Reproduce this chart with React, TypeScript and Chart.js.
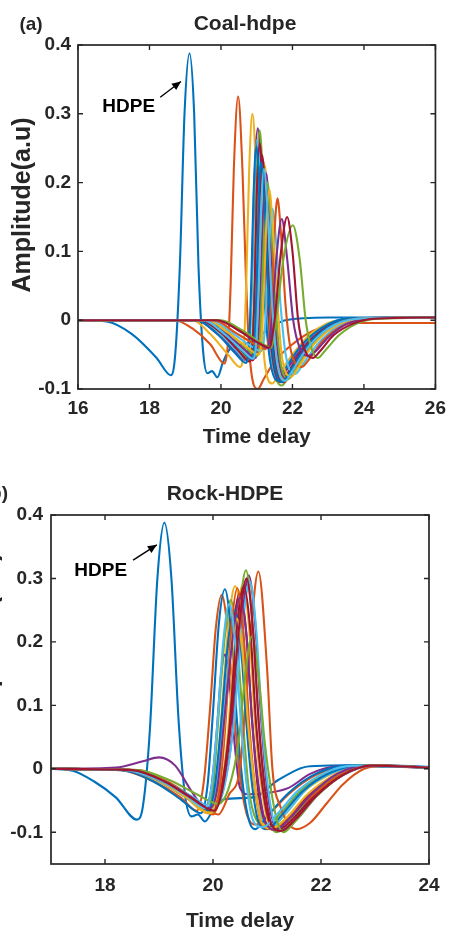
import React, { useEffect, useRef } from "react";
import { Chart, registerables } from "chart.js";

Chart.register(...registerables);

type Pt = [number, number];

// ---------- colours (MATLAB default order) ----------
const lineColors = ["#0072BD", "#D95319", "#EDB120", "#7E2F8E", "#77AC30", "#4DBEEE", "#A2142F"];

// ---------- panel (a) Coal-hdpe ----------
const coalXTicks = [16, 18, 20, 22, 24, 26];
const coalYTicks = [-0.1, 0, 0.1, 0.2, 0.3, 0.4];

const coalHdpe: Pt[] = [[16,0],[16.8,-0.002],[17.5,-0.02],[18.2,-0.055],[18.6,-0.08],[18.72,-0.05],[18.85,0.08],[18.98,0.3],[19.12,0.388],[19.25,0.3],[19.37,0.08],[19.5,-0.045],[19.62,-0.077],[19.75,-0.074],[19.9,-0.083],[20.05,-0.062],[20.25,-0.042],[20.7,-0.034],[21.2,-0.018],[21.8,0.0],[23,0.004],[26,0.004]];
const coal02: Pt[] = [[16,0],[18.7,0],[19.2,-0.012],[19.7,-0.035],[20.1,-0.063],[20.2,-0.03],[20.27,0.05],[20.36,0.22],[20.48,0.325],[20.6,0.22],[20.7,0.06],[20.8,-0.05],[21.03,-0.1],[21.2,-0.085],[21.5,-0.06],[22.0,-0.035],[22.6,-0.015],[23.5,-0.004],[26,-0.004]];
const coal03: Pt[] = [[16,0],[19.2,0],[19.7,-0.02],[20.2,-0.05],[20.53,-0.068],[20.64,-0.04],[20.71,0.06],[20.79,0.22],[20.88,0.3],[20.98,0.22],[21.1,0.05],[21.22,-0.06],[21.44,-0.092],[21.6,-0.08],[22.0,-0.05],[22.5,-0.02],[23.3,0],[26,0.004]];
const coal04: Pt[] = [[16,0],[19.3,0],[19.9,-0.02],[20.4,-0.045],[20.7,-0.058],[20.79,-0.03],[20.87,0.06],[20.94,0.2],[21.03,0.279],[21.13,0.21],[21.26,0.05],[21.39,-0.05],[21.62,-0.088],[21.8,-0.075],[22.2,-0.045],[22.8,-0.015],[23.6,0.002],[26,0.004]];
const coal05: Pt[] = [[16,0],[19.4,0],[20.0,-0.02],[20.5,-0.045],[20.78,-0.055],[20.87,-0.03],[20.94,0.06],[20.99,0.19],[21.08,0.276],[21.18,0.2],[21.31,0.04],[21.46,-0.06],[21.7,-0.095],[21.9,-0.08],[22.3,-0.045],[22.9,-0.012],[23.7,0.003],[26,0.004]];
const coal06: Pt[] = [[16,0],[19.4,0],[20.0,-0.02],[20.45,-0.045],[20.72,-0.058],[20.81,-0.03],[20.87,0.06],[20.92,0.18],[21.0,0.262],[21.11,0.19],[21.23,0.04],[21.37,-0.05],[21.6,-0.085],[21.8,-0.07],[22.2,-0.04],[22.8,-0.012],[23.6,0.003],[26,0.004]];
const coal07: Pt[] = [[16,0],[19.4,0],[20.0,-0.018],[20.5,-0.045],[20.8,-0.06],[20.89,-0.03],[20.95,0.06],[21.0,0.18],[21.08,0.257],[21.18,0.19],[21.31,0.04],[21.45,-0.055],[21.68,-0.09],[21.85,-0.078],[22.25,-0.045],[22.9,-0.012],[23.7,0.003],[26,0.004]];
const coal08: Pt[] = [[16,0],[19.3,0],[19.9,-0.02],[20.4,-0.048],[20.7,-0.062],[20.79,-0.03],[20.85,0.06],[20.91,0.18],[20.99,0.252],[21.09,0.18],[21.21,0.04],[21.35,-0.05],[21.58,-0.088],[21.75,-0.075],[22.2,-0.04],[22.8,-0.012],[23.6,0.003],[26,0.004]];
const coal09: Pt[] = [[16,0],[19.5,0],[20.1,-0.02],[20.6,-0.045],[20.88,-0.058],[20.97,-0.03],[21.03,0.06],[21.09,0.17],[21.17,0.233],[21.27,0.17],[21.39,0.03],[21.53,-0.06],[21.78,-0.09],[21.95,-0.078],[22.35,-0.045],[23.0,-0.012],[23.8,0.002],[26,0.004]];
const coal10: Pt[] = [[16,0],[19.5,0],[20.1,-0.02],[20.6,-0.042],[20.92,-0.055],[21.01,-0.028],[21.08,0.06],[21.14,0.165],[21.22,0.226],[21.32,0.16],[21.44,0.03],[21.58,-0.06],[21.82,-0.088],[22.0,-0.075],[22.4,-0.043],[23.0,-0.012],[23.8,0.002],[26,0.004]];
const coal11: Pt[] = [[16,0],[19.5,0],[20.1,-0.018],[20.65,-0.042],[20.95,-0.055],[21.05,-0.028],[21.12,0.06],[21.18,0.155],[21.26,0.214],[21.36,0.15],[21.48,0.03],[21.61,-0.055],[21.86,-0.085],[22.05,-0.072],[22.45,-0.04],[23.05,-0.01],[23.9,0.002],[26,0.004]];
const coal12: Pt[] = [[16,0],[19.6,0],[20.2,-0.018],[20.7,-0.04],[21.0,-0.052],[21.09,-0.027],[21.16,0.06],[21.22,0.145],[21.3,0.2],[21.4,0.14],[21.52,0.03],[21.65,-0.055],[21.9,-0.085],[22.1,-0.07],[22.5,-0.04],[23.1,-0.01],[23.9,0.002],[26,0.004]];
const coal13: Pt[] = [[16,0],[19.7,0],[20.3,-0.018],[20.85,-0.038],[21.12,-0.045],[21.22,-0.02],[21.29,0.05],[21.36,0.12],[21.44,0.162],[21.54,0.115],[21.67,0.02],[21.81,-0.05],[22.08,-0.078],[22.28,-0.065],[22.7,-0.035],[23.3,-0.008],[24.0,0.003],[26,0.004]];
const coal14: Pt[] = [[16,0],[19.5,0],[20.1,-0.02],[20.6,-0.045],[20.88,-0.058],[20.97,-0.03],[21.03,0.06],[21.08,0.17],[21.15,0.24],[21.25,0.17],[21.37,0.03],[21.51,-0.058],[21.75,-0.09],[21.92,-0.077],[22.3,-0.044],[22.95,-0.012],[23.8,0.002],[26,0.004]];
const coal15: Pt[] = [[16,0],[19.5,0],[20.1,-0.02],[20.6,-0.045],[20.85,-0.056],[20.94,-0.03],[21.0,0.06],[21.05,0.165],[21.12,0.23],[21.22,0.165],[21.34,0.03],[21.48,-0.058],[21.72,-0.09],[21.9,-0.077],[22.3,-0.044],[22.95,-0.012],[23.8,0.002],[26,0.004]];
const coal16: Pt[] = [[16,0],[19.8,0],[20.4,-0.018],[20.95,-0.035],[21.25,-0.042],[21.35,-0.02],[21.43,0.05],[21.5,0.13],[21.58,0.177],[21.68,0.125],[21.81,0.02],[21.96,-0.045],[22.26,-0.068],[22.45,-0.058],[22.85,-0.03],[23.4,-0.008],[24.1,0.002],[26,0.004]];
const coal17: Pt[] = [[16,0],[19.6,0],[20.2,-0.018],[20.75,-0.04],[21.05,-0.05],[21.14,-0.025],[21.21,0.055],[21.27,0.14],[21.35,0.19],[21.45,0.135],[21.58,0.025],[21.71,-0.055],[21.97,-0.082],[22.17,-0.068],[22.55,-0.038],[23.15,-0.01],[23.9,0.002],[26,0.004]];
const coal18: Pt[] = [[16,0],[19.9,0],[20.5,-0.015],[21.05,-0.033],[21.3,-0.04],[21.42,0],[21.55,0.09],[21.7,0.147],[21.85,0.09],[22.02,0],[22.2,-0.04],[22.45,-0.052],[22.65,-0.045],[23.0,-0.025],[23.5,-0.006],[24.2,0.002],[26,0.004]];
const coal19: Pt[] = [[16,0],[20.0,0],[20.6,-0.015],[21.1,-0.032],[21.4,-0.04],[21.54,0],[21.75,0.09],[22.01,0.138],[22.2,0.09],[22.37,0],[22.5,-0.035],[22.7,-0.055],[22.9,-0.045],[23.3,-0.022],[23.8,-0.005],[24.4,0.002],[26,0.004]];
const coal20: Pt[] = [[16,0],[19.5,0],[20.1,-0.02],[20.6,-0.044],[20.9,-0.056],[20.99,-0.028],[21.06,0.06],[21.12,0.16],[21.2,0.22],[21.3,0.16],[21.42,0.03],[21.56,-0.058],[21.8,-0.088],[21.98,-0.075],[22.38,-0.043],[23.0,-0.012],[23.8,0.002],[26,0.004]];
const coal21: Pt[] = [[16,0],[19.9,0],[20.5,-0.015],[21.05,-0.033],[21.35,-0.04],[21.5,0],[21.68,0.1],[21.85,0.15],[22.0,0.1],[22.16,0],[22.32,-0.04],[22.57,-0.055],[22.77,-0.045],[23.15,-0.022],[23.7,-0.005],[24.3,0.002],[26,0.004]];

const coalSeries: Pt[][] = [coalHdpe, coal02, coal03, coal04, coal05, coal06, coal07, coal08, coal09, coal10, coal11, coal12, coal13, coal14, coal15, coal16, coal17, coal18, coal19, coal20, coal21];

// ---------- panel (b) Rock-HDPE ----------
const rockXTicks = [18, 20, 22, 24];
const rockYTicks = [-0.1, 0, 0.1, 0.2, 0.3, 0.4];

const rockHdpe: Pt[] = [[17,0],[17.4,-0.003],[17.8,-0.02],[18.2,-0.045],[18.59,-0.08],[18.7,-0.06],[18.83,0.06],[18.97,0.3],[19.1,0.388],[19.23,0.3],[19.36,0.08],[19.48,-0.04],[19.6,-0.075],[19.72,-0.072],[19.85,-0.083],[20.0,-0.065],[20.2,-0.048],[20.75,-0.045],[21.2,-0.018],[21.8,0.004],[23,0.006],[24,0.003]];
const rock02: Pt[] = [[17,0],[18.3,-0.002],[18.9,-0.02],[19.4,-0.045],[19.7,-0.066],[19.83,-0.02],[19.95,0.1],[20.05,0.22],[20.16,0.274],[20.27,0.22],[20.38,0.1],[20.5,-0.01],[20.62,-0.07],[20.8,-0.088],[21.0,-0.075],[21.4,-0.04],[21.9,-0.01],[22.5,0.004],[24,0.002]];
const rock03: Pt[] = [[17,0],[18.4,-0.002],[19.0,-0.02],[19.5,-0.045],[19.9,-0.07],[20.05,-0.03],[20.17,0.1],[20.29,0.23],[20.41,0.288],[20.52,0.23],[20.63,0.1],[20.75,-0.02],[20.88,-0.075],[21.05,-0.092],[21.3,-0.075],[21.7,-0.035],[22.2,-0.008],[22.8,0.005],[24,0.002]];
const rock04: Pt[] = [[17,0],[18.2,0.002],[18.7,0.012],[19.0,0.018],[19.3,0.005],[19.6,-0.035],[19.85,-0.06],[19.97,-0.03],[20.07,0.06],[20.15,0.15],[20.22,0.18],[20.3,0.14],[20.4,0.04],[20.5,-0.03],[20.65,-0.04],[21.0,-0.038],[21.4,-0.03],[21.8,-0.008],[22.3,0.004],[23,0.005],[24,0.001]];
const rock05: Pt[] = [[17,0],[18.4,-0.002],[19.0,-0.018],[19.5,-0.042],[19.88,-0.065],[20.0,-0.03],[20.1,0.08],[20.22,0.21],[20.33,0.266],[20.44,0.21],[20.55,0.08],[20.66,-0.03],[20.8,-0.08],[20.98,-0.09],[21.25,-0.07],[21.65,-0.032],[22.15,-0.006],[22.7,0.005],[24,0.002]];
const rock06: Pt[] = [[17,0],[18.4,-0.002],[19.0,-0.018],[19.5,-0.04],[19.92,-0.06],[20.05,-0.028],[20.17,0.07],[20.32,0.19],[20.44,0.235],[20.55,0.18],[20.66,0.06],[20.78,-0.03],[20.92,-0.08],[21.1,-0.09],[21.35,-0.07],[21.75,-0.03],[22.25,-0.005],[22.8,0.005],[24,0.002]];
const rock07: Pt[] = [[17,0],[18.5,-0.002],[19.1,-0.02],[19.6,-0.045],[19.98,-0.065],[20.1,-0.03],[20.22,0.08],[20.37,0.22],[20.5,0.277],[20.61,0.22],[20.72,0.08],[20.83,-0.03],[20.97,-0.085],[21.15,-0.096],[21.4,-0.078],[21.8,-0.038],[22.3,-0.008],[22.85,0.005],[24,0.002]];
const rock08: Pt[] = [[17,0],[18.3,-0.002],[18.9,-0.02],[19.4,-0.048],[19.78,-0.07],[19.9,-0.025],[20.0,0.09],[20.11,0.23],[20.22,0.283],[20.33,0.22],[20.44,0.08],[20.56,-0.03],[20.68,-0.085],[20.78,-0.095],[21.0,-0.075],[21.4,-0.038],[21.9,-0.008],[22.5,0.005],[24,0.002]];
const rock09: Pt[] = [[17,0],[18.6,-0.002],[19.2,-0.022],[19.7,-0.05],[20.1,-0.072],[20.3,-0.04],[20.5,0],[20.65,0.16],[20.84,0.311],[21.0,0.16],[21.1,0],[21.25,-0.06],[21.55,-0.095],[21.8,-0.085],[22.1,-0.055],[22.4,-0.025],[22.8,0.0],[23.2,0.005],[24,0.002]];
const rock10: Pt[] = [[17,0],[18.5,-0.002],[19.1,-0.02],[19.6,-0.048],[20.0,-0.07],[20.15,-0.035],[20.28,0.06],[20.42,0.22],[20.55,0.29],[20.67,0.22],[20.78,0.07],[20.9,-0.03],[21.03,-0.085],[21.22,-0.095],[21.5,-0.078],[21.9,-0.04],[22.4,-0.008],[22.9,0.005],[24,0.002]];
const rock11: Pt[] = [[17,0],[18.5,-0.002],[19.1,-0.02],[19.6,-0.045],[20.0,-0.065],[20.18,-0.035],[20.35,0.05],[20.52,0.22],[20.66,0.305],[20.78,0.23],[20.89,0.08],[21.0,-0.03],[21.12,-0.085],[21.3,-0.097],[21.55,-0.08],[21.95,-0.04],[22.45,-0.008],[22.95,0.005],[24,0.002]];
const rock12: Pt[] = [[17,0],[18.5,-0.002],[19.1,-0.02],[19.6,-0.045],[20.0,-0.068],[20.15,-0.035],[20.3,0.06],[20.47,0.23],[20.61,0.313],[20.73,0.23],[20.84,0.08],[20.95,-0.03],[21.07,-0.088],[21.18,-0.1],[21.45,-0.08],[21.85,-0.04],[22.35,-0.008],[22.9,0.005],[24,0.002]];
const rock13: Pt[] = [[17,0],[18.5,-0.002],[19.1,-0.02],[19.6,-0.043],[20.02,-0.062],[20.2,-0.032],[20.37,0.06],[20.54,0.22],[20.68,0.295],[20.8,0.22],[20.91,0.07],[21.02,-0.03],[21.14,-0.085],[21.3,-0.095],[21.55,-0.078],[21.95,-0.04],[22.45,-0.008],[22.95,0.005],[24,0.002]];
const rock14: Pt[] = [[17,0],[18.5,-0.002],[19.1,-0.02],[19.6,-0.045],[20.0,-0.066],[20.15,-0.033],[20.3,0.06],[20.44,0.22],[20.57,0.287],[20.69,0.22],[20.8,0.07],[20.92,-0.03],[21.05,-0.085],[21.22,-0.095],[21.5,-0.077],[21.9,-0.04],[22.4,-0.008],[22.9,0.005],[24,0.002]];
const rock15: Pt[] = [[17,0],[18.4,-0.002],[19.0,-0.02],[19.5,-0.045],[19.9,-0.066],[20.03,-0.03],[20.15,0.07],[20.28,0.2],[20.4,0.25],[20.51,0.2],[20.62,0.07],[20.73,-0.03],[20.85,-0.085],[21.0,-0.095],[21.25,-0.075],[21.65,-0.036],[22.15,-0.007],[22.7,0.005],[24,0.002]];
const rock16: Pt[] = [[17,0],[18.5,-0.002],[19.1,-0.022],[19.6,-0.05],[20.0,-0.072],[20.12,-0.035],[20.23,0.07],[20.34,0.22],[20.45,0.285],[20.56,0.22],[20.67,0.07],[20.78,-0.03],[20.9,-0.088],[21.08,-0.095],[21.35,-0.08],[21.8,-0.045],[22.3,-0.012],[22.9,0.005],[24,0.002]];
const rock17: Pt[] = [[17,0],[18.4,-0.002],[19.0,-0.02],[19.5,-0.045],[19.95,-0.07],[20.08,-0.035],[20.2,0.06],[20.32,0.18],[20.44,0.237],[20.55,0.18],[20.66,0.06],[20.78,-0.03],[20.9,-0.085],[21.08,-0.094],[21.35,-0.078],[21.75,-0.04],[22.25,-0.01],[22.8,0.005],[24,0.002]];
const rock18: Pt[] = [[17,0],[18.4,-0.002],[19.0,-0.018],[19.5,-0.04],[19.95,-0.062],[20.08,-0.03],[20.2,0.07],[20.37,0.21],[20.5,0.27],[20.62,0.21],[20.73,0.07],[20.85,-0.03],[20.98,-0.085],[21.15,-0.096],[21.42,-0.078],[21.82,-0.04],[22.3,-0.008],[22.85,0.005],[24,0.002]];
const rock19: Pt[] = [[17,0],[18.6,-0.002],[19.2,-0.018],[19.7,-0.04],[20.1,-0.055],[20.3,-0.028],[20.47,0.04],[20.6,0.15],[20.72,0.209],[20.84,0.15],[20.96,0.04],[21.07,-0.03],[21.18,-0.08],[21.3,-0.1],[21.5,-0.085],[21.9,-0.045],[22.4,-0.01],[22.9,0.005],[24,0.002]];
const rock20: Pt[] = [[17,0],[18.4,-0.002],[19.0,-0.018],[19.5,-0.042],[19.85,-0.062],[19.97,-0.03],[20.08,0.07],[20.19,0.2],[20.3,0.26],[20.41,0.2],[20.52,0.07],[20.63,-0.03],[20.75,-0.083],[20.92,-0.092],[21.18,-0.072],[21.58,-0.034],[22.08,-0.006],[22.6,0.005],[24,0.002]];
const rock21: Pt[] = [[17,0],[18.5,-0.002],[19.1,-0.02],[19.6,-0.046],[20.02,-0.066],[20.17,-0.034],[20.32,0.06],[20.48,0.22],[20.62,0.3],[20.74,0.22],[20.85,0.07],[20.96,-0.03],[21.08,-0.087],[21.25,-0.098],[21.52,-0.08],[21.92,-0.042],[22.42,-0.009],[22.92,0.005],[24,0.002]];

const rockSeries: Pt[][] = [rockHdpe, rock02, rock03, rock04, rock05, rock06, rock07, rock08, rock09, rock10, rock11, rock12, rock13, rock14, rock15, rock16, rock17, rock18, rock19, rock20, rock21];

// ---------- styling ----------
const FONT = '"Liberation Sans", Arial, Helvetica, sans-serif';
const INK = "#262626";

interface TextItem { text: string; x: number; y: number; size: number; align?: CanvasTextAlign; rotate?: boolean; }
interface Note { label: string; tx: number; ty: number; ax0: number; ay0: number; ax1: number; ay1: number; }

function framePlugin(texts: TextItem[], note: Note) {
  return {
    id: "matlabFrame",
    afterDraw(chart: any) {
      const { ctx, chartArea, scales } = chart;
      const { left, right, top, bottom } = chartArea;
      const xs = scales.x;
      const ys = scales.y;
      ctx.save();
      ctx.strokeStyle = INK;
      ctx.lineWidth = 1.7;
      ctx.strokeRect(left, top, right - left, bottom - top);
      ctx.lineWidth = 1.4;
      ctx.beginPath();
      const L = 5;
      xs.ticks.forEach((t: any) => {
        const p = xs.getPixelForValue(t.value);
        ctx.moveTo(p, bottom); ctx.lineTo(p, bottom - L);
        ctx.moveTo(p, top); ctx.lineTo(p, top + L);
      });
      ys.ticks.forEach((t: any) => {
        const p = ys.getPixelForValue(t.value);
        ctx.moveTo(left, p); ctx.lineTo(left + L, p);
        ctx.moveTo(right, p); ctx.lineTo(right - L, p);
      });
      ctx.stroke();

      ctx.fillStyle = INK;
      ctx.textBaseline = "middle";
      texts.forEach((t) => {
        ctx.font = `bold ${t.size}px ${FONT}`;
        ctx.textAlign = t.align || "center";
        if (t.rotate) {
          ctx.save();
          ctx.translate(t.x, t.y);
          ctx.rotate(-Math.PI / 2);
          ctx.fillText(t.text, 0, 0);
          ctx.restore();
        } else {
          ctx.fillText(t.text, t.x, t.y);
        }
      });

      // annotation
      const tx = xs.getPixelForValue(note.tx);
      const ty = ys.getPixelForValue(note.ty);
      ctx.fillStyle = "#000";
      ctx.font = `bold 19px ${FONT}`;
      ctx.textAlign = "center";
      ctx.fillText(note.label, tx, ty);
      const x0 = xs.getPixelForValue(note.ax0);
      const y0 = ys.getPixelForValue(note.ay0);
      const x1 = xs.getPixelForValue(note.ax1);
      const y1 = ys.getPixelForValue(note.ay1);
      ctx.strokeStyle = "#000";
      ctx.lineWidth = 1.4;
      ctx.beginPath();
      ctx.moveTo(x0, y0);
      ctx.lineTo(x1, y1);
      ctx.stroke();
      const ang = Math.atan2(y1 - y0, x1 - x0);
      const hl = 9, hw = 4;
      ctx.beginPath();
      ctx.moveTo(x1, y1);
      ctx.lineTo(x1 - hl * Math.cos(ang) + hw * Math.sin(ang), y1 - hl * Math.sin(ang) - hw * Math.cos(ang));
      ctx.lineTo(x1 - hl * Math.cos(ang) - hw * Math.sin(ang), y1 - hl * Math.sin(ang) + hw * Math.cos(ang));
      ctx.closePath();
      ctx.fillStyle = "#000";
      ctx.fill();
      ctx.restore();
    },
  };
}

interface PanelCfg {
  series: Pt[][];
  xMin: number; xMax: number; yMin: number; yMax: number;
  xTicks: number[]; yTicks: number[];
  padTop: number; padRight: number;
  yAxisWidth: number; xAxisHeight: number;
  xTickPad: number; yTickPad: number; xTitlePad: number;
  texts: TextItem[]; note: Note;
}

function buildConfig(c: PanelCfg): any {
  const n = c.series.length;
  return {
    type: "line",
    data: {
      datasets: c.series.map((s, i) => ({
        data: s.map(([x, y]) => ({ x, y })),
        borderColor: lineColors[i % lineColors.length],
        borderWidth: 2.1,
        pointRadius: 0,
        fill: false,
        cubicInterpolationMode: "monotone",
        order: n - i,
      })),
    },
    options: {
      responsive: false,
      animation: false,
      events: [],
      layout: { padding: { top: c.padTop, right: c.padRight, left: 0, bottom: 0 } },
      plugins: { legend: { display: false }, tooltip: { enabled: false }, title: { display: false } },
      scales: {
        x: {
          type: "linear",
          min: c.xMin,
          max: c.xMax,
          afterBuildTicks: (s: any) => { s.ticks = c.xTicks.map((v) => ({ value: v })); },
          afterFit: (s: any) => { s.height = c.xAxisHeight; },
          ticks: {
            autoSkip: false, maxRotation: 0, padding: c.xTickPad, color: INK,
            font: { family: FONT, size: 19, weight: "bold" },
            callback: (v: any) => String(v),
          },
          grid: { display: false, drawTicks: false },
          border: { display: false },
          title: {
            display: true, text: "Time delay", color: INK,
            font: { family: FONT, size: 21, weight: "bold", lineHeight: 1 },
            padding: { top: 0, bottom: c.xTitlePad },
          },
        },
        y: {
          type: "linear",
          min: c.yMin,
          max: c.yMax,
          afterBuildTicks: (s: any) => { s.ticks = c.yTicks.map((v) => ({ value: v })); },
          afterFit: (s: any) => { s.width = c.yAxisWidth; },
          ticks: {
            autoSkip: false, padding: c.yTickPad, color: INK,
            font: { family: FONT, size: 19, weight: "bold" },
            callback: (v: any) => String(Math.round(Number(v) * 10) / 10),
          },
          grid: { display: false, drawTicks: false },
          border: { display: false },
        },
      },
    },
    plugins: [framePlugin(c.texts, c.note)],
  };
}

const coalPanel: PanelCfg = {
  series: coalSeries,
  xMin: 16, xMax: 26, yMin: -0.1, yMax: 0.4,
  xTicks: coalXTicks, yTicks: coalYTicks,
  padTop: 45, padRight: 11, yAxisWidth: 78, xAxisHeight: 71,
  xTickPad: 8, yTickPad: 7, xTitlePad: 12,
  texts: [
    { text: "(a)", x: 31, y: 25, size: 19 },
    { text: "Coal-hdpe", x: 245, y: 24, size: 21 },
    { text: "Amplitude(a.u)", x: 23, y: 205, size: 25, rotate: true },
  ],
  note: { label: "HDPE", tx: 17.42, ty: 0.31, ax0: 18.3, ay0: 0.324, ax1: 18.88, ay1: 0.347 },
};

const rockPanel: PanelCfg = {
  series: rockSeries,
  xMin: 17, xMax: 24, yMin: -0.15, yMax: 0.4,
  xTicks: rockXTicks, yTicks: rockYTicks,
  padTop: 55, padRight: 25, yAxisWidth: 51, xAxisHeight: 69,
  xTickPad: 10, yTickPad: 8, xTitlePad: 1,
  texts: [
    { text: "(b)", x: 8, y: 34, size: 19, align: "right" },
    { text: "Rock-HDPE", x: 225, y: 34, size: 21 },
    { text: "Amplitude(a.u)", x: -10, y: 180, size: 25, rotate: true },
  ],
  note: { label: "HDPE", tx: 17.92, ty: 0.312, ax0: 18.52, ay0: 0.329, ax1: 18.96, ay1: 0.353 },
};

function Panel({ cfg, width, height, top }: { cfg: PanelCfg; width: number; height: number; top: number }) {
  const ref = useRef<HTMLCanvasElement | null>(null);
  useEffect(() => {
    if (!ref.current) return;
    const chart = new Chart(ref.current, buildConfig(cfg));
    return () => chart.destroy();
  }, [cfg]);
  return (
    <canvas
      ref={ref}
      width={width}
      height={height}
      style={{ position: "absolute", left: 0, top, width, height, display: "block" }}
    />
  );
}

export default function App() {
  return (
    <div style={{ position: "absolute", left: 0, top: 0, width: 454, height: 933, background: "#fff", overflow: "hidden" }}>
      <Panel cfg={coalPanel} width={454} height={460} top={0} />
      <Panel cfg={rockPanel} width={454} height={473} top={460} />
    </div>
  );
}
